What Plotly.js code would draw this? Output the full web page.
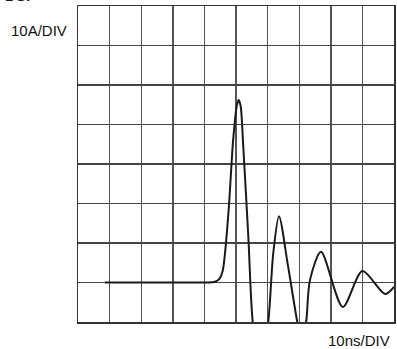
<!DOCTYPE html>
<html>
<head>
<meta charset="utf-8">
<script src="https://cdn.plot.ly/plotly-3.0.1.min.js"></script>
<style>html,body{margin:0;padding:0;background:#fff;}#chart{width:397px;height:349px;}</style>
</head>
<body>
<div id="chart"></div>
<script>
// time in ns (10 ns/div), current in A (10 A/div), baseline at 0 A
const time_ns = [8.5, 20, 30, 40, 43.4, 44.8, 45.8, 47.6, 49.1, 50.3, 50.9, 51.5, 52.3, 53.9, 55.3, 57.7, 60.2, 61.8, 63.6, 66.5, 69.4, 70.8, 72.2, 73.4, 76.9, 83.8, 90.0, 97.2, 100];
const current_A = [0, 0, 0, 0, 0.2, 1, 3, 17.6, 36.1, 45, 46.2, 44.5, 34.4, 11.6, -10, -22, -10, 7.5, 16.8, 4, -10, -15, -10, 0.6, 7.8, -6.2, 2.9, -2.9, -1.1];
const yLabel = "10A/DIV";
const xLabel = "10ns/DIV";
const topLabel = "DS:";

const trace = {
  x: time_ns, y: current_A, type: 'scatter', mode: 'lines',
  line: {color: '#1a1a1a', width: 2, shape: 'spline', smoothing: 0.8},
  hoverinfo: 'skip'
};
const layout = {
  width: 397, height: 349,
  margin: {l: 78, r: 3, t: 6, b: 27},
  paper_bgcolor: '#fff', plot_bgcolor: '#fff',
  showlegend: false,
  xaxis: {range: [0, 100], dtick: 10, tick0: 0, showticklabels: false, ticks: '',
          showgrid: true, gridcolor: '#555', gridwidth: 1.4, zeroline: false,
          showline: true, mirror: true, linecolor: '#333', linewidth: 1.5, fixedrange: true},
  yaxis: {range: [-10, 70], dtick: 10, tick0: 0, showticklabels: false, ticks: '',
          showgrid: true, gridcolor: '#444', gridwidth: 1.4, zeroline: false,
          showline: true, mirror: true, linecolor: '#333', linewidth: 1.5, fixedrange: true},
  annotations: [
    {text: yLabel, xref: 'paper', yref: 'paper', x: -0.03, y: 0.924, xanchor: 'right', yanchor: 'middle',
     showarrow: false, font: {family: 'Liberation Sans, Arial, sans-serif', size: 15, color: '#111'}},
    {text: xLabel, xref: 'paper', yref: 'paper', x: 0.994, y: -0.057, xanchor: 'right', yanchor: 'middle',
     showarrow: false, font: {family: 'Liberation Sans, Arial, sans-serif', size: 15, color: '#111'}},
    {text: '<b>' + topLabel + '</b>', xref: 'paper', yref: 'paper', x: -0.237, y: 1.0, xanchor: 'left', yanchor: 'bottom',
     showarrow: false, font: {family: 'Liberation Sans, Arial, sans-serif', size: 15, color: '#111'}}
  ]
};
Plotly.newPlot('chart', [trace], layout, {displayModeBar: false, staticPlot: true});
</script>
</body>
</html>
